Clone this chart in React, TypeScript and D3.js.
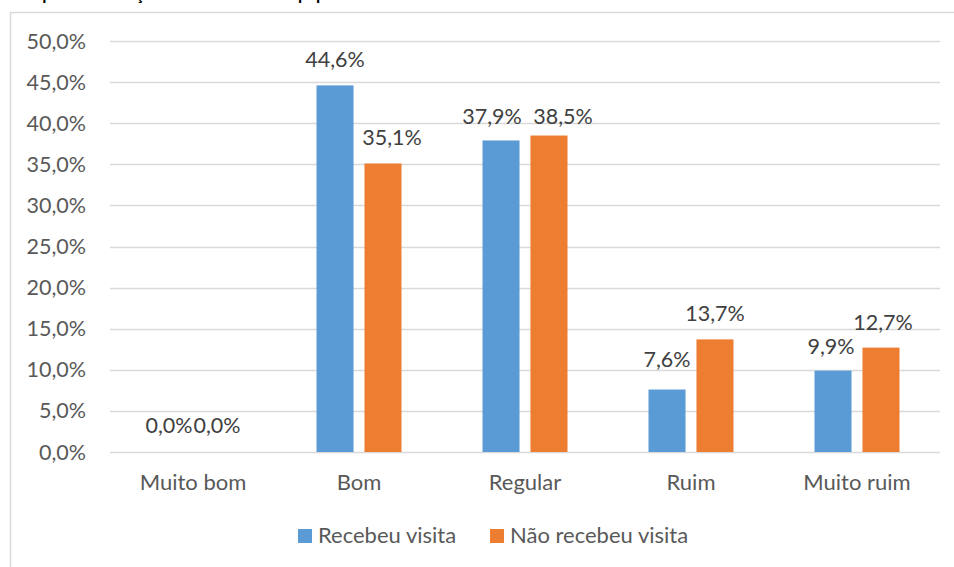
import React from "react";
import * as d3 from "d3";

const categories = ["Muito bom", "Bom", "Regular", "Ruim", "Muito ruim"];
const seriesNames = ["Recebeu visita", "Não recebeu visita"];
const recebeu = [0.0, 44.6, 37.9, 7.6, 9.9];
const naoRecebeu = [0.0, 35.1, 38.5, 13.7, 12.7];
const yTicks = [0, 5, 10, 15, 20, 25, 30, 35, 40, 45, 50];
const colors = ["#5B9BD5", "#ED7D31"];
const title = "Impressão da ação oferecida à sua equipe";

// manual label nudges (as in the original, labels were moved to avoid overlaps)
const labelNudgeX = [
  [0, 0, -9, 0, -2],
  [0, 9, 14, 0, 2],
];
const labelNudgeY = [
  [-1, 0, 2, -5, 1.5],
  [-1, 0, 6.5, 0, 0],
];

const W = 954;
const H = 567;
const plot = { left: 110, right: 940, top: 41, bottom: 452 };
const font = "Lato, Carlito, 'Open Sans', sans-serif";

const fmt = (v: number) => v.toFixed(1).replace(".", ",") + "%";

export default function App() {
  const x = d3
    .scaleBand<string>()
    .domain(categories)
    .range([plot.left, plot.right])
    .paddingInner(0)
    .paddingOuter(0);
  const y = d3.scaleLinear().domain([0, 50]).range([plot.bottom, plot.top]);
  const bw = x.bandwidth();
  const barW = bw * 0.223;
  const gap = bw * 0.066;
  const groupW = barW * 2 + gap;
  const series = [recebeu, naoRecebeu];

  return (
    <svg
      width={W}
      height={H}
      style={{ position: "absolute", left: 0, top: 0, background: "#fff" }}
      fontFamily={font}
    >
      <text x={23} y={0} fontSize={17} fontWeight="bold" fill="#000">
        {title}
      </text>
      {/* frame */}
      <line x1={10.5} x2={10.5} y1={12} y2={H} stroke="#d9d9d9" strokeWidth={1.5} />
      <line x1={10} x2={W} y1={12.5} y2={12.5} stroke="#d9d9d9" strokeWidth={1.5} />
      {/* grid */}
      {yTicks.map((t) => (
        <g key={t}>
          <line
            x1={plot.left}
            x2={plot.right}
            y1={Math.round(y(t)) + 0.5}
            y2={Math.round(y(t)) + 0.5}
            stroke="#d9d9d9"
            strokeWidth={1.3}
          />
          <text
            x={86}
            y={y(t)}
            dy="0.35em"
            textAnchor="end"
            fontSize={21.5}
            fill="#595959"
          >
            {fmt(t)}
          </text>
        </g>
      ))}
      {/* bars */}
      {categories.map((c, i) => {
        const x0 = (x(c) as number) + (bw - groupW) / 2;
        return (
          <g key={c}>
            {series.map((s, k) => {
              const bx = x0 + k * (barW + gap);
              const v = s[i];
              return (
                <g key={k}>
                  <rect
                    x={bx}
                    y={y(v)}
                    width={barW}
                    height={plot.bottom - y(v)}
                    fill={colors[k]}
                  />
                  <text
                    x={bx + barW / 2 + labelNudgeX[k][i]}
                    y={y(v) - 18 + labelNudgeY[k][i]}
                    textAnchor="middle"
                    fontSize={21.5}
                    fill="#404040"
                  >
                    {fmt(v)}
                  </text>
                </g>
              );
            })}
            <text
              x={(x(c) as number) + bw / 2}
              y={490}
              textAnchor="middle"
              fontSize={22}
              fill="#595959"
            >
              {c}
            </text>
          </g>
        );
      })}
      {/* legend */}
      {seriesNames.map((n, k) => {
        const lx = k === 0 ? 298 : 490;
        return (
          <g key={n}>
            <rect x={lx} y={529} width={14} height={14} fill={colors[k]} />
            <text x={lx + 20} y={543} fontSize={22} fill="#595959">
              {n}
            </text>
          </g>
        );
      })}
    </svg>
  );
}
